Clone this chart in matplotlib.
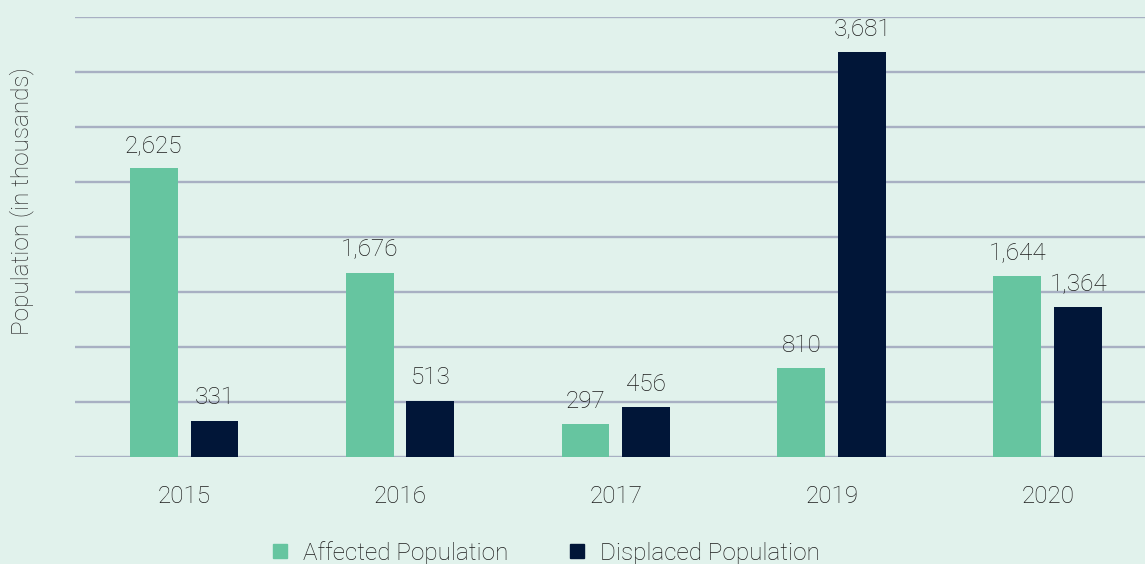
import matplotlib
matplotlib.use("Agg")
import matplotlib.pyplot as plt
import numpy as np
from matplotlib.lines import Line2D

years = ["2015", "2016", "2017", "2019", "2020"]
affected = [2625, 1676, 297, 810, 1644]
displaced = [331, 513, 456, 3681, 1364]
series_names = ["Affected Population", "Displaced Population"]

bg = "#e1f2ec"
c_aff = "#66c5a0"
c_dis = "#011638"
grid_c = "#a8b0c3"
txt_c = "#1c1c1c"
fs = 17.5

plt.rcParams['font.family'] = ['Roboto', 'DejaVu Sans']

fig = plt.figure(figsize=(11.45, 5.64), dpi=100, facecolor=bg)
ax = fig.add_axes([75/1145, 107/564, 1070/1145, 440/564], facecolor=bg)

x = np.arange(len(years))
w = 0.222
off = 0.141
b1 = ax.bar(x - off, affected, w, color=c_aff, zorder=3)
b2 = ax.bar(x + off, displaced, w, color=c_dis, zorder=3)

for bars, vals in ((b1, affected), (b2, displaced)):
    for r, v in zip(bars, vals):
        ax.annotate(f"{v:,}", (r.get_x() + r.get_width()/2, v), xytext=(0, 8),
                    textcoords="offset points", ha="center", va="bottom",
                    fontsize=fs, color=txt_c, fontweight="light", zorder=4)

ax.set_xlim(-0.505, 4.45)
ax.set_ylim(0, 4000)
ax.set_yticks(np.arange(0, 4001, 500))
ax.yaxis.grid(True, color=grid_c, linewidth=1.7, zorder=0)
ax.set_axisbelow(True)
ax.tick_params(axis="y", length=0, labelleft=False)
ax.tick_params(axis="x", length=0, pad=20, labelsize=fs, labelcolor=txt_c)
ax.set_xticks(x)
ax.set_xticklabels(years, fontweight="light")
for s in ax.spines.values():
    s.set_visible(False)

fig.text(22/1145, 1 - 201/564, "Population (in thousands)", rotation=90,
         ha="center", va="center", fontsize=fs, color="#2e2e2e", fontweight="light")

handles = [Line2D([], [], marker="s", linestyle="none", markersize=10, color=c_aff),
           Line2D([], [], marker="s", linestyle="none", markersize=10, color=c_dis)]
leg = fig.legend(handles, series_names, loc="center", bbox_to_anchor=(545/1145, 1 - 553/564),
                 ncol=2, frameon=False, handletextpad=0.55, columnspacing=2.4,
                 handlelength=0.8, labelcolor=txt_c, prop={"weight": "light", "size": fs})

fig.savefig("out.png", dpi=100, facecolor=bg)
